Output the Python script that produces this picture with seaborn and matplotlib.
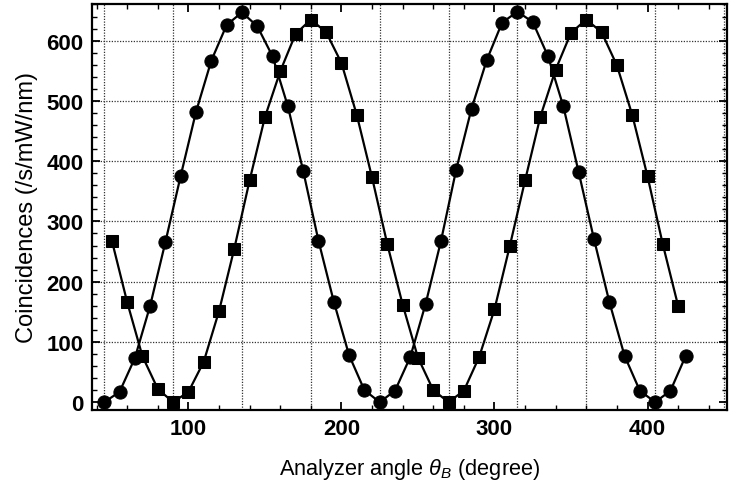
import numpy as np
import pandas as pd
import matplotlib
matplotlib.use("Agg")
import matplotlib.pyplot as plt
from matplotlib.ticker import MultipleLocator
import seaborn as sns

# Circles (series 1)
circle_angle = [45, 55, 65, 75, 85, 95, 105, 115, 125, 135, 145, 155, 165, 175, 185,
                195, 205, 215, 225, 235, 245, 255, 265, 275, 285, 295, 305, 315, 325,
                335, 345, 355, 365, 375, 385, 395, 405, 415, 425]
circle_counts = [0, 17, 73, 160, 266, 376, 482, 567, 626, 647, 624, 574, 491, 384, 268,
                 167, 78, 20, 0, 19, 75, 163, 267, 386, 487, 568, 630, 648, 631,
                 574, 491, 382, 271, 167, 77, 19, 0, 19, 77]

# Squares (series 2)
square_angle = [50, 60, 70, 80, 90, 100, 110, 120, 130, 140, 150, 160, 170, 180, 190,
                200, 210, 220, 230, 240, 250, 260, 270, 280, 290, 300, 310, 320, 330,
                340, 350, 360, 370, 380, 390, 400, 410, 420]
square_counts = [268, 166, 76, 22, 0, 17, 67, 151, 255, 368, 473, 549, 611, 635, 614,
                 563, 477, 373, 262, 162, 74, 20, 0, 19, 75, 154, 259, 368, 474,
                 552, 613, 635, 614, 559, 477, 375, 262, 160]

x_label = r"Analyzer angle $\theta_B$ (degree)"
y_label = "Coincidences (/s/mW/nm)"

sns.set_style("ticks")
plt.rcParams['font.family'] = ['Liberation Sans', 'DejaVu Sans']
plt.rcParams['mathtext.fontset'] = 'custom'
plt.rcParams['mathtext.it'] = 'Liberation Sans:italic'
plt.rcParams['mathtext.rm'] = 'Liberation Sans'
plt.rcParams['text.color'] = 'black'
plt.rcParams['axes.labelcolor'] = 'black'
plt.rcParams['xtick.color'] = 'black'
plt.rcParams['ytick.color'] = 'black'

fig = plt.figure(figsize=(7.30, 4.89), dpi=100)
ax = fig.add_axes([0.126, 0.1595, 0.870, 0.8305])

df_c = pd.DataFrame({"angle": circle_angle, "counts": circle_counts})
df_s = pd.DataFrame({"angle": square_angle, "counts": square_counts})

# gridlines (dotted) at 45 degree steps and 100 count steps
for gx in np.arange(45, 451, 45):
    ax.axvline(gx, color="#333333", lw=0.9, ls=(0, (1, 1.2)), zorder=0)
for gy in np.arange(100, 601, 100):
    ax.axhline(gy, color="#333333", lw=0.9, ls=(0, (1, 1.2)), zorder=0)

sns.lineplot(data=df_c, x="angle", y="counts", ax=ax, color="black", lw=1.6,
             marker="o", markersize=9.5, markeredgecolor="black", markerfacecolor="black")
sns.lineplot(data=df_s, x="angle", y="counts", ax=ax, color="black", lw=1.6,
             marker="s", markersize=8, markeredgecolor="black", markerfacecolor="black")

ax.set_xlim(37, 452)
ax.set_ylim(-13, 661)
ax.xaxis.set_major_locator(MultipleLocator(100))
ax.xaxis.set_minor_locator(MultipleLocator(20))
ax.yaxis.set_major_locator(MultipleLocator(100))
ax.yaxis.set_minor_locator(MultipleLocator(20))
ax.tick_params(which="both", direction="in", top=True, right=True, color="black",
               labelcolor="black")
ax.tick_params(which="major", length=6, width=1.3, labelsize=16, pad=6)
ax.tick_params(which="minor", length=3.5, width=1.0)
for lab in ax.get_xticklabels() + ax.get_yticklabels():
    lab.set_fontweight("bold")
for sp in ax.spines.values():
    sp.set_linewidth(1.6)
    sp.set_color("black")

ax.set_xlabel(x_label, fontsize=15.7, labelpad=12)
ax.set_ylabel(y_label, fontsize=17, labelpad=6)

fig.savefig("out.png", dpi=100)
